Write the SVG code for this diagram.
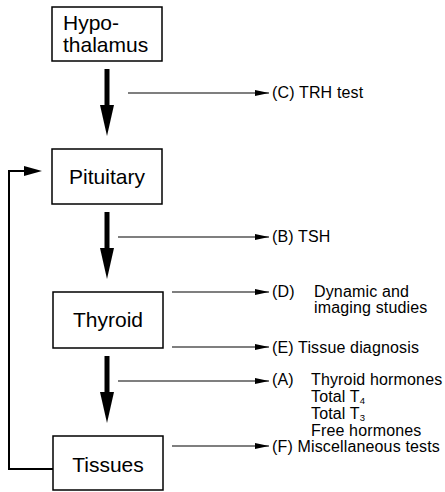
<svg xmlns="http://www.w3.org/2000/svg" width="445" height="492" viewBox="0 0 445 492">
<style>
.box{fill:#fff;stroke:#000;stroke-width:1.5}
.bt{font-family:"Liberation Sans",Arial,sans-serif;font-size:21px;fill:#000}
.lt{font-family:"Liberation Sans",Arial,sans-serif;font-size:16px;letter-spacing:0.15px;fill:#000}
.sub{font-size:9.5px;letter-spacing:0}
.thin{stroke:#000;stroke-width:1.2;fill:none}
.thick{stroke:#000;stroke-width:5;fill:none}
.fb{stroke:#000;stroke-width:2;fill:none}
</style>
<defs>
<marker id="ah" markerWidth="14" markerHeight="8" refX="14" refY="4" orient="auto" markerUnits="userSpaceOnUse">
<path d="M0,1 L14,4 L0,7 Z" fill="#000"/>
</marker>
</defs>
<rect width="445" height="492" fill="#fff"/>
<g id="hypothalamus">
<rect class="box" x="52" y="7" width="110" height="54"/>
<text class="bt" x="63" y="30">Hypo-</text>
<text class="bt" x="63" y="52">thalamus</text>
</g>
<g id="pituitary">
<rect class="box" x="52" y="149" width="110" height="55"/>
<text class="bt" x="107" y="184" text-anchor="middle">Pituitary</text>
</g>
<g id="thyroid">
<rect class="box" x="53" y="292" width="110" height="56"/>
<text class="bt" x="108" y="327" text-anchor="middle">Thyroid</text>
</g>
<g id="tissues">
<rect class="box" x="53" y="436" width="110" height="54"/>
<text class="bt" x="108" y="472" text-anchor="middle">Tissues</text>
</g>
<g id="labels">
<text class="lt" x="272" y="98">(C) TRH test</text>
<text class="lt" x="272" y="242">(B) TSH</text>
<text class="lt" x="272" y="297">(D)</text>
<text class="lt" x="314" y="297">Dynamic and</text>
<text class="lt" x="314" y="313">imaging studies</text>
<text class="lt" x="272" y="353">(E) Tissue diagnosis</text>
<text class="lt" x="272" y="385">(A)</text>
<text class="lt" x="311" y="385">Thyroid hormones</text>
<text class="lt" x="311" y="402">Total T<tspan class="sub" dy="2">4</tspan></text>
<text class="lt" x="311" y="419">Total T<tspan class="sub" dy="2">3</tspan></text>
<text class="lt" x="311" y="436">Free hormones</text>
<text class="lt" x="272" y="452">(F) Miscellaneous tests</text>
</g>
<g id="connectors">
<line class="thick" x1="107" y1="69" x2="107" y2="108"/>
<polygon points="100,105 114,105 107,136" fill="#000"/>
<line class="thick" x1="107" y1="212" x2="107" y2="251"/>
<polygon points="100,248 114,248 107,279" fill="#000"/>
<line class="thick" x1="107" y1="356" x2="107" y2="395"/>
<polygon points="100,392 114,392 107,423" fill="#000"/>
<line class="thin" x1="128" y1="93" x2="269" y2="93" marker-end="url(#ah)"/>
<line class="thin" x1="118" y1="237" x2="269" y2="237" marker-end="url(#ah)"/>
<line class="thin" x1="172" y1="292" x2="269" y2="292" marker-end="url(#ah)"/>
<line class="thin" x1="172" y1="347" x2="269" y2="347" marker-end="url(#ah)"/>
<line class="thin" x1="118" y1="381" x2="269" y2="381" marker-end="url(#ah)"/>
<line class="thin" x1="172" y1="446" x2="269" y2="446" marker-end="url(#ah)"/>
<polyline class="fb" points="53,469 9,469 9,171 30,171"/>
<polygon points="24,166 42,171 24,176" fill="#000"/>
</g>
</svg>
